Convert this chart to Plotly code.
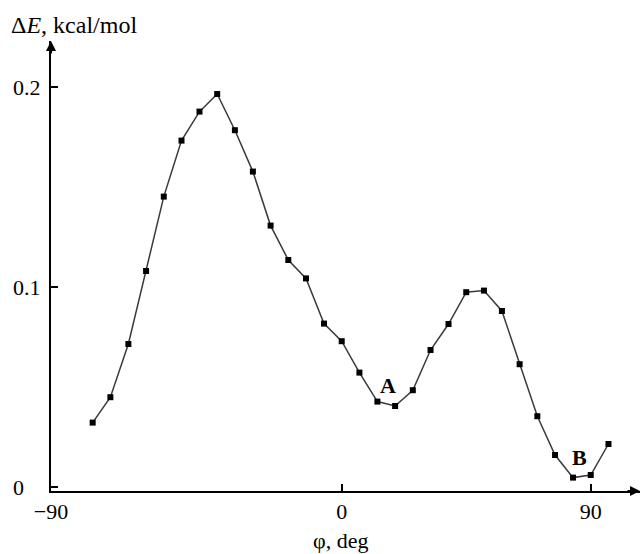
import plotly.graph_objects as go

# Data
phi_deg = [-90.0, -83.6, -77.1, -70.7, -64.3, -57.9, -51.4, -45.0, -38.6, -32.1,
           -25.7, -19.3, -12.9, -6.4, 0.0, 6.4, 12.9, 19.3, 25.7, 32.1,
           38.6, 45.0, 51.4, 57.9, 64.3, 70.7, 77.1, 83.6, 90.0, 96.4]
delta_e = [0.0322, 0.0449, 0.0715, 0.1080, 0.1452, 0.1732, 0.1877, 0.1965, 0.1784, 0.1577,
           0.1307, 0.1135, 0.1043, 0.0817, 0.0729, 0.0572, 0.0427, 0.0405, 0.0484, 0.0685,
           0.0815, 0.0974, 0.0982, 0.0880, 0.0614, 0.0354, 0.0160, 0.0047, 0.0060, 0.0215]

x_tick_vals = [-105.06, 0, 90]
x_tick_text = ["\u221290", "0", "90"]
y_tick_vals = [0, 0.1, 0.2]
y_tick_text = ["0\u2008\u2007", "0.1", "0.2"]

point_labels = ["A", "B"]
point_label_x = [16.7, 85.8]
point_label_y = [0.051, 0.015]

x_range = [-105.06, 107.8]
y_range = [-0.002, 0.223]

FONT = "Liberation Serif, Times New Roman, serif"

fig = go.Figure()
fig.add_trace(go.Scatter(
    x=phi_deg, y=delta_e, mode="lines+markers",
    line=dict(color="#3a3a3a", width=1.5),
    marker=dict(symbol="square", size=6, color="black"),
    showlegend=False, hoverinfo="skip",
))

for t, xx, yy in zip(point_labels, point_label_x, point_label_y):
    fig.add_annotation(x=xx, y=yy, text=f"<b>{t}</b>", showarrow=False,
                       font=dict(family=FONT, size=22, color="black"))

# axis arrowheads
fig.add_annotation(x=x_range[1], y=y_range[0], ax=-14, ay=0, text="",
                   showarrow=True, arrowhead=2, arrowsize=1, arrowwidth=2,
                   arrowcolor="black", xref="x", yref="y")
fig.add_annotation(x=x_range[0], y=y_range[1], ax=0, ay=14, text="",
                   showarrow=True, arrowhead=2, arrowsize=1, arrowwidth=2,
                   arrowcolor="black", xref="x", yref="y")

# y axis title at top-left
fig.add_annotation(xref="paper", yref="paper", x=-42 / 589, y=1 + 16 / 450,
                   xanchor="left", yanchor="middle", showarrow=False,
                   text="\u0394<i>E</i>, kcal/mol",
                   font=dict(family=FONT, size=24, color="black"))
# x axis title
fig.add_annotation(xref="paper", yref="paper", x=(340 - 51) / 589, y=-49 / 450,
                   xanchor="center", yanchor="middle", showarrow=False,
                   text="\u03c6, deg",
                   font=dict(family=FONT, size=22, color="black"))

fig.update_layout(
    width=643, height=554,
    margin=dict(l=51, r=3, t=41, b=63),
    plot_bgcolor="white", paper_bgcolor="white",
    font=dict(family=FONT, size=22, color="black"),
    xaxis=dict(range=x_range, showgrid=False, zeroline=False, automargin=False,
               showline=True, linecolor="black", linewidth=2,
               ticks="inside", ticklen=7, tickwidth=1.5, tickcolor="black",
               tickvals=x_tick_vals, ticktext=x_tick_text),
    yaxis=dict(range=y_range, showgrid=False, zeroline=False, automargin=False,
               showline=True, linecolor="black", linewidth=2,
               ticks="inside", ticklen=7, tickwidth=1.5, tickcolor="black",
               ticklabelstandoff=4,
               tickvals=y_tick_vals, ticktext=y_tick_text),
)

fig.write_html("out.html",
               config={"displayModeBar": False},
               post_script="document.body.style.margin='0px';document.body.style.overflow='hidden';")
